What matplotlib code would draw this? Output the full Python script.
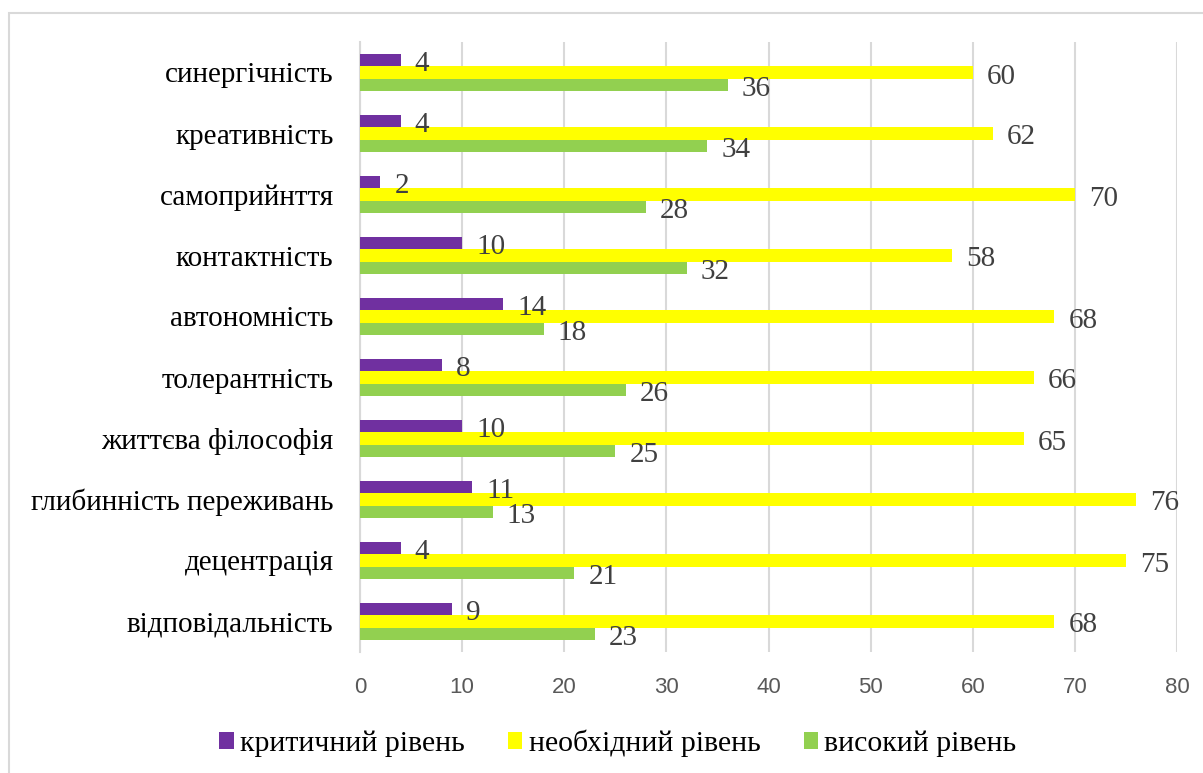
import matplotlib
matplotlib.use("Agg")
import matplotlib.pyplot as plt
from matplotlib.patches import Rectangle, Patch

categories = ["синергічність", "креативність", "самоприйнття", "контактність",
              "автономність", "толерантність", "життєва філософія",
              "глибинність переживань", "децентрація", "відповідальність"]
critical = [4, 4, 2, 10, 14, 8, 10, 11, 4, 9]
required = [60, 62, 70, 58, 68, 66, 65, 76, 75, 68]
high = [36, 34, 28, 32, 18, 26, 25, 13, 21, 23]
series_names = ["критичний рівень", "необхідний рівень", "високий рівень"]
colors = ["#7030A0", "#FFFF00", "#92D050"]
xticks = [0, 10, 20, 30, 40, 50, 60, 70, 80]

W, H = 1203, 773
fig = plt.figure(figsize=(W / 100, H / 100), dpi=100)
ax = fig.add_axes([360 / W, 1 - 652 / H, (1177 - 360) / W, (652 - 42) / H])

serif = ["Liberation Serif", "DejaVu Serif"]
bar_h = 0.2
step = 0.21
ypos = list(range(len(categories)))

for j, (vals, col) in enumerate(zip([critical, required, high], colors)):
    offs = (j - 1) * step
    ys = [y + offs for y in ypos]
    ax.barh(ys, vals, height=bar_h, color=col, zorder=3)
    for y, v in zip(ys, vals):
        ax.annotate(str(v), (v, y), xytext=(14, -4), textcoords="offset pixels",
                    ha="left", va="center", fontsize=21, family=serif,
                    color="#404040", zorder=4)

ax.set_ylim(len(categories) - 0.5, -0.5)
ax.set_xlim(0, 80)
ax.set_yticks(ypos)
ax.set_yticklabels(categories, family=serif, fontsize=21, color="#000000")
ax.set_xticks(xticks)
ax.set_xticklabels([str(t) for t in xticks], family=["Liberation Sans"],
                   fontsize=16, color="#595959")
ax.tick_params(axis="both", length=0)
ax.tick_params(axis="y", pad=19)
ax.tick_params(axis="x", pad=18)
ax.grid(axis="x", color="#d9d9d9", linewidth=1.5, zorder=0)
for s in ["top", "right", "bottom"]:
    ax.spines[s].set_visible(False)
ax.spines["left"].set_color("#d9d9d9")
ax.spines["left"].set_linewidth(1.5)

handles = [Patch(facecolor=c) for c in colors]
fig.legend(handles, series_names, loc="center", bbox_to_anchor=(618 / W, 1 - 743 / H),
           ncol=3, frameon=False, prop={"family": serif, "size": 21.5},
           handlelength=0.47, handleheight=0.5, handletextpad=0.22,
           columnspacing=1.45)

fig.patches.append(Rectangle((9 / W, -0.05), 1.2, 1 - 13 / H + 0.05,
                             transform=fig.transFigure, fill=False,
                             edgecolor="#d9d9d9", linewidth=1.5))

fig.savefig("out.png", dpi=100)
